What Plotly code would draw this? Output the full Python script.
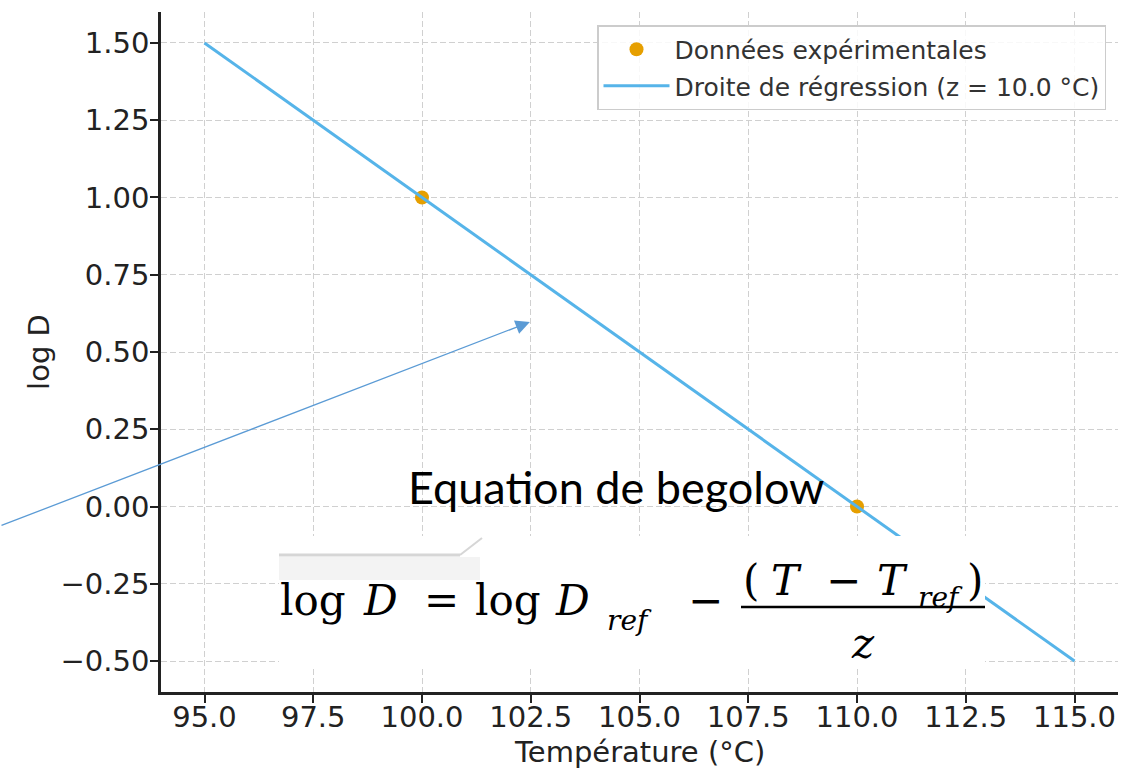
import plotly.graph_objects as go

# ---------------- data ----------------
temperatures = [100.0, 110.0]          # °C
log_d_values = [1.0, 0.0]              # log D
fit_x = [95.0, 115.0]                  # regression line end points (x)
fit_y = [1.5, -0.5]                    # regression line end points (y)
z_value = 10.0

x_ticks = [95.0, 97.5, 100.0, 102.5, 105.0, 107.5, 110.0, 112.5, 115.0]
y_ticks = [-0.5, -0.25, 0.0, 0.25, 0.5, 0.75, 1.0, 1.25, 1.5]

# ---------------- layout constants ----------------
W, H = 1123, 769
ML, MR, MT, MB = 161, 5, 12, 77
PW, PH = W - ML - MR, H - MT - MB
X_RANGE = [94.0, 116.0]
Y_RANGE = [-0.6, 1.6]


def px(x):
    return (x - ML) / PW


def py(y):
    return (H - MB - y) / PH


ORANGE = "#E69F00"
BLUE = "#56B4E9"
ARROW = "#5B9BD5"
AX = "#222222"
TICKFONT = dict(family="DejaVu Sans", size=29, color=AX)

fig = go.Figure()
fig.add_trace(go.Scatter(
    x=temperatures, y=log_d_values, mode="markers",
    marker=dict(color=ORANGE, size=14),
    name="Données expérimentales", legendgroup="a"))
fig.add_trace(go.Scatter(
    x=fit_x, y=fit_y, mode="lines",
    line=dict(color=BLUE, width=3),
    name=f"Droite de régression (z = {z_value:.1f} °C)", legendgroup="b"))

axis_common = dict(
    showline=True, linecolor=AX, linewidth=2.5, mirror=False,
    ticks="outside", ticklen=8, tickwidth=2, tickcolor=AX,
    showgrid=True, gridcolor="#d0d0d0", gridwidth=1.3, griddash="6px,3px",
    zeroline=False, tickfont=TICKFONT, automargin=False,
)
fig.update_xaxes(range=X_RANGE, tickvals=x_ticks, tickformat=".1f",
                 ticklabelstandoff=-11, **axis_common)
fig.update_yaxes(range=Y_RANGE, tickvals=y_ticks, tickformat=".2f",
                 ticklabelstandoff=-5,
                 title=dict(text="log D", font=TICKFONT, standoff=3),
                 **axis_common)

shapes = [
    # pasted equation image (white background)
    dict(type="rect", xref="paper", yref="paper", layer="above",
         x0=px(279), x1=px(985), y0=py(668), y1=py(536),
         fillcolor="white", line=dict(width=0)),
    dict(type="rect", xref="paper", yref="paper", layer="above",
         x0=px(279), x1=px(480), y0=py(580), y1=py(557),
         fillcolor="#f3f3f3", line=dict(width=0)),
    dict(type="line", xref="paper", yref="paper", layer="above",
         x0=px(279), x1=px(460), y0=py(555), y1=py(555),
         line=dict(color="#d6d6d6", width=3)),
    dict(type="line", xref="paper", yref="paper", layer="above",
         x0=px(460), x1=px(482), y0=py(555), y1=py(538),
         line=dict(color="#d6d6d6", width=2)),
    # fraction bar
    dict(type="line", xref="paper", yref="paper", layer="above",
         x0=px(741), x1=px(985), y0=py(607), y1=py(607),
         line=dict(color="black", width=2.5)),
]

SERIF = "DejaVu Serif"
EQ = 42
SUB = 28


def piece(text, cx, cy, size=EQ, italic=False):
    t = f"<i>{text}</i>" if italic else text
    return dict(text=t, xref="paper", yref="paper", x=px(cx), y=py(cy),
                xanchor="center", yanchor="middle", showarrow=False,
                font=dict(family=SERIF, size=size, color="black"))


annotations = [
    # x axis title
    dict(text="Température (°C)", xref="paper", yref="paper",
         x=0.5, y=py(752), xanchor="center", yanchor="middle",
         showarrow=False, font=TICKFONT),
    dict(text="Equation de begolow", xref="paper", yref="paper",
         x=px(616), y=py(487), xanchor="center", yanchor="middle",
         showarrow=False, font=dict(family="Lato", size=45, color="black")),
    piece("log", 313, 600),
    piece("D", 380, 600, italic=True),
    piece("=", 441, 600),
    piece("log", 508, 600),
    piece("D", 572, 600, italic=True),
    piece("ref", 629, 620, size=SUB, italic=True),
    piece("−", 705, 600),
    piece("(", 751, 580),
    piece("T", 786, 580, italic=True),
    piece("−", 843, 580),
    piece("T", 892, 580, italic=True),
    piece("ref", 940, 597, size=SUB, italic=True),
    piece(")", 975, 580),
    piece("z", 863, 643, italic=True),
    # arrow pointing to the regression line
    dict(text="", x=102.48, y=0.597, xref="x", yref="y",
         ax=-530, ay=204, axref="pixel", ayref="pixel",
         showarrow=True, arrowhead=2, arrowsize=2.2, arrowwidth=1.3,
         arrowcolor=ARROW, standoff=0),
]

fig.update_layout(
    width=W, height=H, margin=dict(l=ML, r=MR, t=MT, b=MB, autoexpand=False),
    plot_bgcolor="white", paper_bgcolor="white",
    shapes=shapes, annotations=annotations,
    legend=dict(x=px(1106), y=py(25), xanchor="right", yanchor="top",
                bgcolor="rgba(255,255,255,0.85)", bordercolor="#cccccc",
                borderwidth=1.5, font=dict(family="DejaVu Sans", size=25, color="#333333"),
                itemwidth=66, tracegroupgap=1, traceorder="grouped"),
    showlegend=True,
)

fig.write_html(
    "out.html",
    config={"displayModeBar": False},
    post_script="document.body.style.margin='0';document.body.style.overflow='hidden';",
)
